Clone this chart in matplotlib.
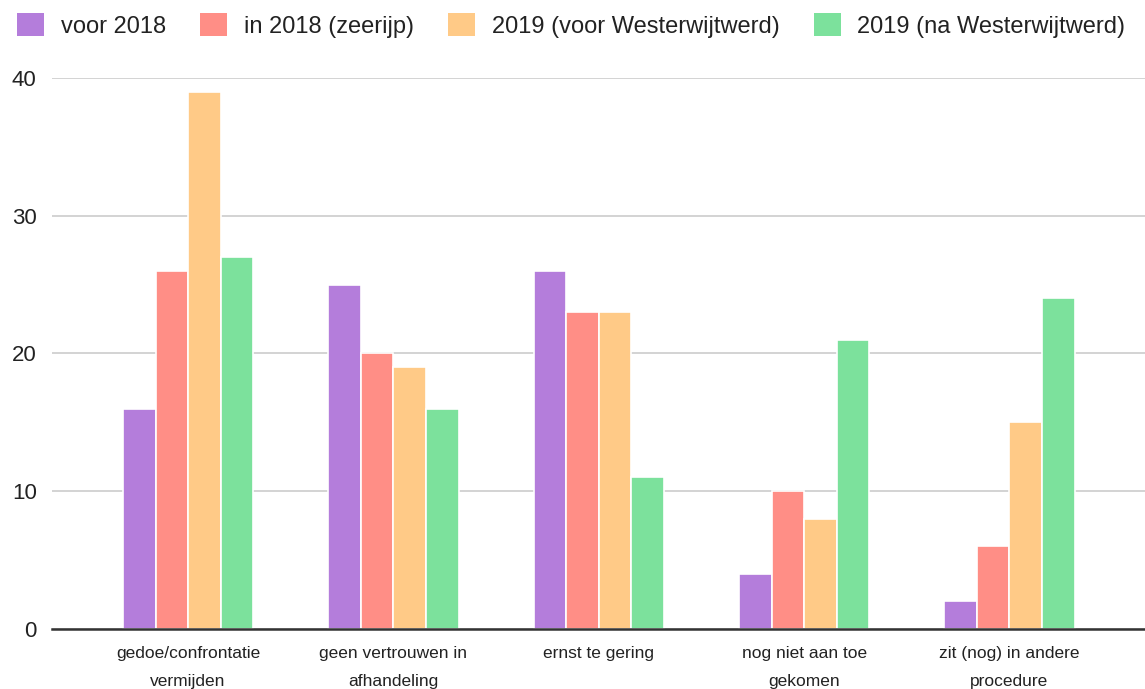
import numpy as np
import matplotlib.pyplot as plt
from matplotlib.patches import Patch

plt.rcParams["font.family"] = ["Liberation Sans", "DejaVu Sans"]

# data
categories = ["gedoe/confrontatie\nvermijden", "geen vertrouwen in\nafhandeling",
              "ernst te gering", "nog niet aan toe\ngekomen", "zit (nog) in andere\nprocedure"]
series_names = ["voor 2018", "in 2018 (zeerijp)", "2019 (voor Westerwijtwerd)", "2019 (na Westerwijtwerd)"]
voor_2018 = [16, 25, 26, 4, 2]
in_2018 = [26, 20, 23, 10, 6]
voor_ww_2019 = [39, 19, 23, 8, 15]
na_ww_2019 = [27, 16, 11, 21, 24]
y_ticks = [0, 10, 20, 30, 40]

colors = ["#b47ddb", "#ff8e86", "#ffca87", "#7ce19c"]
all_series = [voor_2018, in_2018, voor_ww_2019, na_ww_2019]

fig = plt.figure(figsize=(11.45, 6.89), dpi=100)
ax = fig.add_axes([0.0454, 0.0871, 0.9546, 0.7997])

x = np.arange(len(categories))
w = 0.1585
for i, vals in enumerate(all_series):
    ax.bar(x + (i - 1.5) * w, vals, width=w, color=colors[i],
           edgecolor="white", linewidth=1.2, zorder=3)

ax.set_xlim(-0.663, 4.66)
ax.set_ylim(0, 40)
ax.set_yticks(y_ticks)
ax.set_yticklabels([str(t) for t in y_ticks], fontsize=16, color="#222222")
ax.set_xticks(x)
ax.set_xticklabels(categories, fontsize=12.5, color="#222222", linespacing=2.1)
ax.tick_params(axis="both", length=0)
ax.tick_params(axis="x", pad=12)
ax.tick_params(axis="y", pad=11)
ax.grid(axis="y", color="#cccccc", linewidth=1.2, zorder=0)
for s in ["top", "right", "left"]:
    ax.spines[s].set_visible(False)
ax.spines["bottom"].set_color("#333333")
ax.spines["bottom"].set_linewidth(1.8)
ax.spines["bottom"].set_zorder(4)

handles = [Patch(facecolor=c, edgecolor="none") for c in colors]
fig.legend(handles, series_names, loc="upper left", bbox_to_anchor=(17 / 1145, 1 - 13 / 689),
           ncol=4, frameon=False, fontsize=17, handlelength=1.15, handleheight=1.15,
           handletextpad=0.7, columnspacing=1.45, labelcolor="#222222",
           borderaxespad=0, borderpad=0)

fig.savefig("out.png", dpi=100)
